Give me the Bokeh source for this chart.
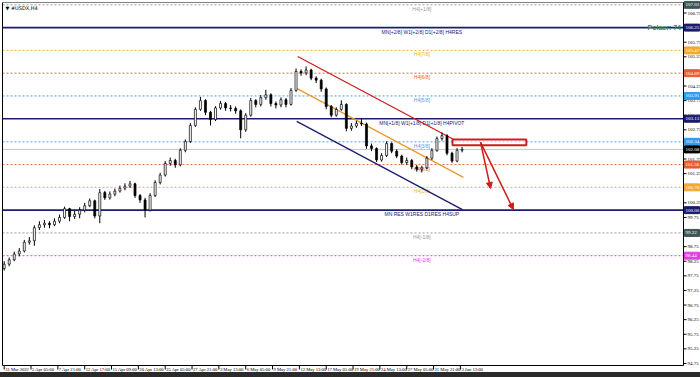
from bokeh.plotting import figure
from bokeh.models import Arrow, NormalHead, Div, ColumnDataSource
from bokeh.layouts import column
from bokeh.embed import file_html
from bokeh.resources import INLINE
from bokeh.core.properties import value

# ---------------- data ----------------
# one candle per 12 hours (3 H4 bars); x position = H4 bar index
opens = [98.00, 98.15, 98.30, 98.50, 98.60, 98.90, 98.95, 99.40, 99.50, 99.55,
         99.50, 99.62, 99.75, 100.05, 99.78, 99.86, 100.00, 100.15, 100.32, 99.80,
         100.60, 100.42, 100.55, 100.65, 100.75, 100.82, 100.90, 100.50, 100.35, 100.00,
         100.50, 100.95, 101.20, 101.60, 101.70, 101.55, 102.05, 102.35, 102.90, 103.45,
         103.75, 103.35, 103.10, 103.50, 103.65, 103.50, 103.48, 103.40, 102.75, 103.25,
         103.75, 103.62, 103.85, 103.95, 103.65, 103.60, 103.78, 103.62, 104.10, 104.75,
         104.70, 104.80, 104.52, 104.45, 104.15, 103.55, 103.25, 103.45, 103.62, 102.80,
         102.88, 102.97, 102.95, 102.20, 102.11, 101.72, 101.87, 102.28, 102.02, 101.85,
         101.63, 101.70, 101.48, 101.40, 101.45, 101.78, 102.04, 102.45, 102.55, 101.95,
         101.68, 102.05]
closes = [98.15, 98.30, 98.50, 98.60, 98.90, 98.95, 99.40, 99.50, 99.55, 99.50,
          99.62, 99.75, 100.05, 99.78, 99.86, 100.00, 100.15, 100.32, 99.80, 100.60,
          100.42, 100.55, 100.65, 100.75, 100.82, 100.90, 100.50, 100.35, 100.00, 100.50,
          100.95, 101.20, 101.60, 101.70, 101.55, 102.05, 102.35, 102.90, 103.45, 103.75,
          103.35, 103.10, 103.50, 103.65, 103.50, 103.48, 103.40, 102.75, 103.25, 103.75,
          103.62, 103.85, 103.95, 103.65, 103.60, 103.78, 103.62, 104.10, 104.75, 104.70,
          104.80, 104.52, 104.45, 104.15, 103.55, 103.25, 103.45, 103.62, 102.80, 102.88,
          102.97, 102.95, 102.20, 102.11, 101.72, 101.87, 102.28, 102.02, 101.85, 101.63,
          101.70, 101.48, 101.40, 101.45, 101.78, 102.04, 102.45, 102.55, 101.95, 101.68,
          102.05, 102.08]
highs = [98.25, 98.38, 98.58, 98.70, 98.98, 99.08, 99.48, 99.62, 99.66, 99.62,
         99.72, 99.85, 100.12, 100.08, 99.98, 100.10, 100.25, 100.40, 100.36, 100.72,
         100.66, 100.64, 100.74, 100.84, 100.92, 101.00, 100.94, 100.55, 100.42, 100.58,
         101.02, 101.28, 101.68, 101.80, 101.76, 102.12, 102.42, 102.98, 103.52, 103.88,
         103.80, 103.40, 103.56, 103.74, 103.70, 103.60, 103.55, 103.45, 103.32, 103.84,
         103.80, 103.94, 104.12, 104.00, 103.72, 103.86, 103.84, 104.18, 104.85, 104.82,
         104.92, 104.84, 104.58, 104.50, 104.20, 103.60, 103.52, 103.76, 103.66, 102.98,
         103.06, 103.16, 103.00, 102.28, 102.15, 101.95, 102.36, 102.32, 102.08, 101.90,
         101.80, 101.75, 101.55, 101.52, 101.85, 102.12, 102.52, 102.66, 102.60, 102.00,
         102.12, 102.16]
lows = [97.93, 98.08, 98.25, 98.42, 98.55, 98.82, 98.78, 99.32, 99.40, 99.38,
        99.45, 99.55, 99.70, 99.62, 99.70, 99.72, 99.92, 100.10, 99.72, 99.55,
        100.35, 100.36, 100.48, 100.60, 100.68, 100.76, 100.42, 100.25, 99.75, 99.95,
        100.45, 100.88, 101.15, 101.52, 101.45, 101.50, 101.98, 102.30, 102.85, 103.40,
        103.25, 102.90, 103.05, 103.44, 103.40, 103.38, 103.30, 102.46, 102.68, 103.20,
        103.52, 103.55, 103.78, 103.55, 103.48, 103.52, 103.52, 103.58, 104.05, 104.60,
        104.62, 104.45, 104.35, 104.05, 103.45, 103.18, 103.20, 103.40, 102.70, 102.72,
        102.82, 102.88, 102.10, 102.02, 101.65, 101.66, 101.82, 101.95, 101.78, 101.56,
        101.55, 101.40, 101.32, 101.29, 101.40, 101.72, 102.00, 102.38, 101.88, 101.62,
        101.64, 101.98]
bar_index = [3 * k for k in range(len(closes))]

# Murrey levels
level_values = [107.03, 106.25, 105.47, 104.69, 103.91, 103.13, 102.34, 101.56, 100.78, 100.00, 99.22, 98.44]
level_names = ["H4[+1/8]", "MN[+2/8] W1[+2/8] D1[+2/8] H4RES", "H4[7/8]", "H4[6/8]", "H4[5/8]",
               "MN[+1/8] W1[+1/8] D1[+1/8] H4PIVOT", "H4[3/8]", "H4[2/8]", "H4[1/8]",
               "MN RES W1RES D1RES H4SUP", "H4[-1/8]", "H4[-2/8]"]
level_tags = ["107.03", "106.25", "105.47", "104.69", "103.91", "103.13", "102.34", "101.56",
              "100.78", "100.00", "99.22", "98.44"]
level_colors = ["#9a9a9a", "#1c1c6e", "#f0b040", "#e8643c", "#4aa3df", "#1c1c6e", "#4aa3df",
                "#e8643c", "#f0b040", "#1c1c6e", "#9a9a9a", "#e040e0"]
level_box = ["#3e5656", "#1c1c6e", "#f0a830", "#e85c30", "#3399ee", "#1c1c6e", "#3399ee",
             "#e85c30", "#f0a830", "#1c1c6e", "#3e5656", "#e040e0"]
level_solid = [False, True, False, False, False, True, False, False, False, True, False, False]

current_price = 102.08
current_tag = "102.08"

# channel lines (bar index, price)
chan_red = ([175, 268], [105.26, 102.42])
chan_orange = ([174.4, 273.8], [104.17, 101.12])
chan_navy = ([174.4, 273.2], [103.04, 100.02])

# resistance zone and projected moves
zone_x = [267.3, 311.3]
zone_y = [102.22, 102.42]
arrow_start = (284, 102.32)
arrow_ends = [(290, 100.74), (303.6, 100.02)]

# axes
y_ticks = [94.75, 95.25, 95.75, 96.25, 96.75, 97.25, 97.75, 98.25, 98.75, 99.25, 99.75,
           100.25, 100.75, 101.25, 101.75, 102.25, 102.75, 103.25, 103.75, 104.25, 104.75,
           105.25, 105.75, 106.25, 106.75]
y_tick_labels = ["94.75", "95.25", "95.75", "96.25", "96.75", "97.25", "97.75", "98.25",
                 "98.75", "99.25", "99.75", "100.25", "100.75", "101.25", "101.75", "102.25",
                 "102.75", "103.25", "103.75", "104.25", "104.75", "105.25", "105.75",
                 "106.25", "106.75"]
x_tick_idx = [0, 16, 32, 48, 64, 80, 96, 112, 128, 144, 160, 176, 192, 208, 224, 240, 256, 272]
x_tick_labels = ["31 Mar 2022", "5 Apr 05:00", "7 Apr 21:00", "12 Apr 17:00", "15 Apr 09:00",
                 "20 Apr 13:00", "25 Apr 05:00", "27 Apr 21:00", "3 May 13:00", "6 May 05:00",
                 "9 May 21:00", "12 May 13:00", "17 May 05:00", "19 May 21:00", "24 May 13:00",
                 "27 May 05:00", "31 May 21:00", "3 Jun 13:00"]

# ---------------- geometry of the MT4 window ----------------
X_LEFT, X_RIGHT = -1.0, 405.0          # chart area in bar units
Y_BOTTOM, Y_TOP = 94.68, 107.11        # chart area in price units
PX_X = 681.0 / (X_RIGHT - X_LEFT)      # pixels per bar unit
PX_Y = 363.0 / (Y_TOP - Y_BOTTOM)      # pixels per price unit
W, H = 700, 372

FONT = "Liberation Sans Narrow"
FONT2 = "Liberation Sans"
p = figure(width=W, height=H,
           x_range=(X_LEFT - 2 / PX_X, X_LEFT + (W - 2) / PX_X),
           y_range=(Y_BOTTOM - (H - 365) / PX_Y, Y_TOP + 2 / PX_Y),
           output_backend="svg", toolbar_location=None,
           min_border=0, x_axis_location=None, y_axis_location=None)
p.background_fill_color = "white"
p.border_fill_color = "white"
p.outline_line_color = None
p.xgrid.visible = False
p.ygrid.visible = False

# levels
for v, c, solid in zip(level_values, level_colors, level_solid):
    if solid:
        p.line([X_LEFT, X_RIGHT], [v, v], line_color=c, line_width=1.6)
    else:
        p.line([X_LEFT, X_RIGHT], [v, v], line_color=c, line_width=1, line_dash="2 2")
p.line([X_LEFT, X_RIGHT], [current_price, current_price], line_color="#c4c4c4", line_width=1)

lv_src = ColumnDataSource(dict(x=[249] * len(level_values), y=level_values,
                               t=level_names, c=level_colors))
p.text(x="x", y="y", text="t", text_color="c", source=lv_src, text_align="center",
       text_baseline="top", y_offset=1, text_font=value(FONT2), text_font_size="5px")

# channels
p.line(chan_red[0], chan_red[1], line_color="#d01c1c", line_width=1.3)
p.line(chan_orange[0], chan_orange[1], line_color="#e89a2c", line_width=1.3)
p.line(chan_navy[0], chan_navy[1], line_color="#1c1c6e", line_width=1.3)

# candles
up = [c >= o for o, c in zip(opens, closes)]
src = ColumnDataSource(dict(
    x=bar_index, h=highs, l=lows,
    top=[max(o, c) for o, c in zip(opens, closes)],
    bot=[min(o, c) for o, c in zip(opens, closes)],
    fill=["white" if u else "black" for u in up]))
p.segment(x0="x", y0="l", x1="x", y1="h", source=src, line_color="black", line_width=1)
p.vbar(x="x", width=1.2, top="top", bottom="bot", source=src, fill_color="fill",
       line_color="black", line_width=0.7)

# resistance zone and arrows
p.quad(left=[zone_x[0]], right=[zone_x[1]], bottom=[zone_y[0]], top=[zone_y[1]],
       fill_color="white", fill_alpha=0.6, line_color="#d01c1c", line_width=2)
for xe, ye in arrow_ends:
    p.add_layout(Arrow(end=NormalHead(size=6, fill_color="#d01c1c", line_color="#d01c1c"),
                       x_start=arrow_start[0], y_start=arrow_start[1], x_end=xe, y_end=ye,
                       line_color="#d01c1c", line_width=1.5))

# green note
p.text(x=[X_RIGHT - 1.5], y=[106.25], text=["Polaer: 74"], text_color="#2e8b57",
       text_align="right", text_baseline="middle", text_font=value(FONT2),
       text_font_size="7px", text_font_style="bold")

# ---- chart frame ----
p.line([X_LEFT, X_LEFT], [Y_BOTTOM, Y_TOP], line_color="black", line_width=1)
p.line([X_LEFT, X_RIGHT + 10], [Y_TOP, Y_TOP], line_color="#808080", line_width=1)
p.line([X_RIGHT, X_RIGHT], [Y_BOTTOM, Y_TOP], line_color="black", line_width=1)
p.line([X_LEFT, X_RIGHT], [Y_BOTTOM, Y_BOTTOM], line_color="black", line_width=1)

# ---- right price scale ----
tick_len = 3 / PX_X
p.segment(x0=[X_RIGHT] * len(y_ticks), y0=y_ticks, x1=[X_RIGHT + tick_len] * len(y_ticks),
          y1=y_ticks, line_color="black", line_width=1)
p.text(x=[X_RIGHT + 4 / PX_X] * len(y_ticks), y=y_ticks, text=y_tick_labels,
       text_color="black", text_align="left", text_baseline="middle",
       text_font=value(FONT), text_font_size="5px")

# price tags
tag_src = ColumnDataSource(dict(y=level_values + [current_price],
                                t=level_tags + [current_tag],
                                c=level_box + ["black"]))
p.rect(x=X_RIGHT + 8.5 / PX_X, y="y", width=15 / PX_X, height=7 / PX_Y, source=tag_src,
       fill_color="c", line_color="c")
p.text(x=X_RIGHT + 2 / PX_X, y="y", text="t", source=tag_src, text_color="white",
       text_align="left", text_baseline="middle", text_font=value(FONT),
       text_font_size="5px")

# ---- time scale ----
tick_h = 4 / PX_Y
p.segment(x0=x_tick_idx, y0=[Y_BOTTOM] * len(x_tick_idx), x1=x_tick_idx,
          y1=[Y_BOTTOM - tick_h] * len(x_tick_idx), line_color="black", line_width=1)
p.text(x=[i + 1 / PX_X for i in x_tick_idx], y=[Y_BOTTOM - 1.5 / PX_Y] * len(x_tick_idx),
       text=x_tick_labels, text_color="black", text_align="left", text_baseline="top",
       text_font=value(FONT), text_font_size="4.6px")

# symbol caption
p.text(x=[X_LEFT + 3 / PX_X], y=[Y_TOP - 2 / PX_Y], text=["\u25bc #USDX,H4"],
       text_color="black", text_align="left", text_baseline="top",
       text_font=value("DejaVu Sans"), text_font_size="5px")

bar = Div(width=700, height=5, styles={"background-color": "#2b2b2b"}, margin=0)
layout = column(p, bar, spacing=0)

open("out.html", "w").write(file_html(layout, INLINE))
